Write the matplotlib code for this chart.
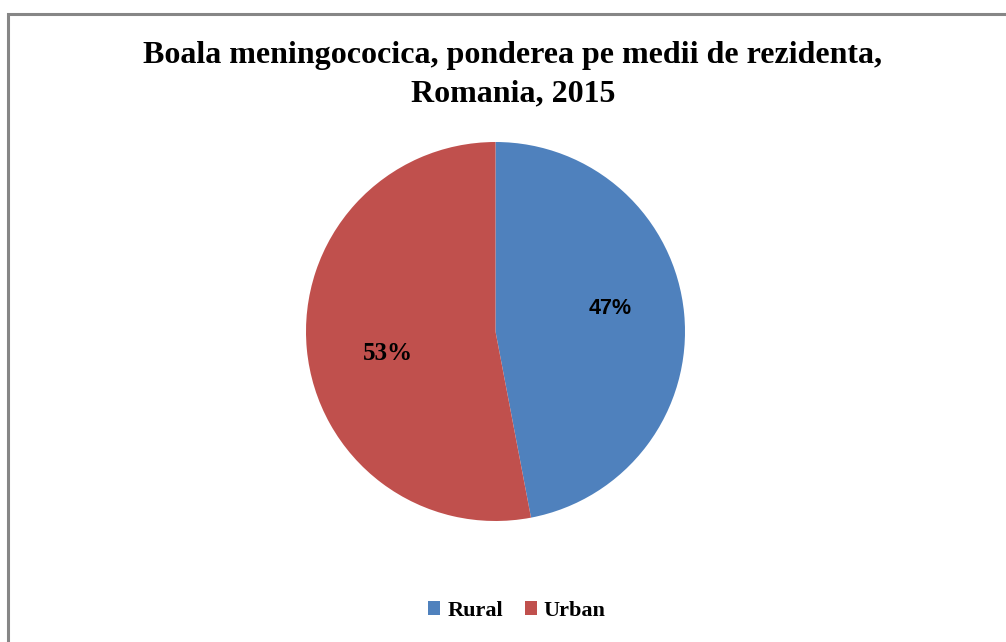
import matplotlib
matplotlib.use("Agg")
import matplotlib.pyplot as plt
from matplotlib.patches import Rectangle
import numpy as np

categories = ["Rural", "Urban"]
values = [47, 53]
colors = ["#4F81BD", "#C0504D"]
title = "Boala meningococica, ponderea pe medii de rezidenta,\nRomania, 2015"

W, H = 1006, 642
fig = plt.figure(figsize=(W / 100, H / 100), dpi=100)
fig.patch.set_facecolor("white")

# border (only top and left visible)
fig.add_artist(Rectangle((8 / W, -0.1), 1.2, (H - 14) / H + 0.1, transform=fig.transFigure,
                         fill=False, edgecolor="#868686", linewidth=2.2))

cx, cy, r = 495.5, 331.5, 189.5
ax = fig.add_axes([(cx - r) / W, (H - cy - r) / H, 2 * r / W, 2 * r / H])
wedges, texts, autotexts = ax.pie(values, colors=colors, startangle=90, counterclock=False,
                                  autopct="%1.0f%%", pctdistance=0.61, radius=1,
                                  textprops=dict(fontweight="bold", color="black"))
ax.set_xlim(-1, 1)
ax.set_ylim(-1, 1)
ax.set_aspect("equal")
ax.axis("off")

label_fonts = [("Liberation Sans", 15.5, 0.62), ("Liberation Serif", 18, 0.58)]
for w, t, (fam, fs, dist) in zip(wedges, autotexts, label_fonts):
    ang = np.deg2rad((w.theta1 + w.theta2) / 2 + 6.0)
    t.set_position((dist * np.cos(ang), dist * np.sin(ang)))
    t.set_fontfamily(fam)
    t.set_fontsize(fs)

fig.text(513 / W, 1 - 75 / H, title, ha="center", va="center", fontfamily="Liberation Serif",
         fontweight="bold", fontsize=23, linespacing=1.42)

handles = [Rectangle((0, 0), 1, 1, facecolor=c, edgecolor="none") for c in colors]
fig.legend(handles, categories, loc="center", bbox_to_anchor=(517 / W, 1 - 611 / H), ncol=2,
           frameon=False, handlelength=0.55, handleheight=0.55, handletextpad=0.3, columnspacing=1.0,
           prop=dict(family="Liberation Serif", weight="bold", size=16))

fig.savefig("out.png", dpi=100, facecolor="white")
